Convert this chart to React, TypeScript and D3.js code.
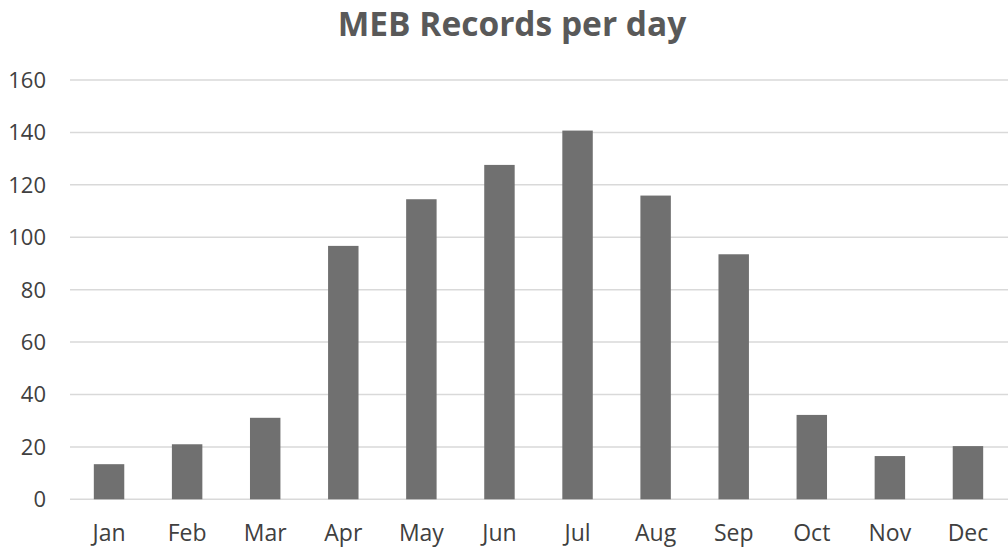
import React from "react";
import * as d3 from "d3";

const months = ["Jan", "Feb", "Mar", "Apr", "May", "Jun", "Jul", "Aug", "Sep", "Oct", "Nov", "Dec"];
const records = [13.4, 21, 31.1, 96.7, 114.5, 127.6, 140.7, 115.9, 93.5, 32.2, 16.5, 20.3];
const yTicks = [0, 20, 40, 60, 80, 100, 120, 140, 160];
const title = "MEB Records per day";

const W = 1008;
const H = 550;
const left = 70;
const right = 1007;
const top = 80;
const bottom = 499.3;

export default function App() {
  const x = d3.scaleBand<string>().domain(months).range([left, right]).paddingInner(0.61).paddingOuter(0.305);
  const y = d3.scaleLinear().domain([0, 160]).range([bottom, top]);
  const font = "'Open Sans', 'Noto Sans', sans-serif";
  return (
    <svg width={W} height={H} style={{ position: "absolute", left: 0, top: 0, background: "#fff" }}>
      <text x={512} y={36} textAnchor="middle" fontFamily={font} fontWeight={700} fontSize={33.5} fill="#595959">
        {title}
      </text>
      {yTicks.map((t) => (
        <g key={t}>
          <line x1={left} x2={right + 1} y1={y(t)} y2={y(t)} stroke="#d9d9d9" strokeWidth={1.5} />
          <text x={46} y={y(t)} dy="0.36em" textAnchor="end" fontFamily={font} fontSize={22} fill="#404040">
            {t}
          </text>
        </g>
      ))}
      {months.map((m, i) => (
        <rect key={m} x={x(m)} y={y(records[i])} width={x.bandwidth()} height={y(0) - y(records[i])} fill="#707070" />
      ))}
      {months.map((m) => (
        <text key={m} x={(x(m) as number) + x.bandwidth() / 2} y={541} textAnchor="middle" fontFamily={font} fontSize={23} fill="#404040">
          {m}
        </text>
      ))}
    </svg>
  );
}
